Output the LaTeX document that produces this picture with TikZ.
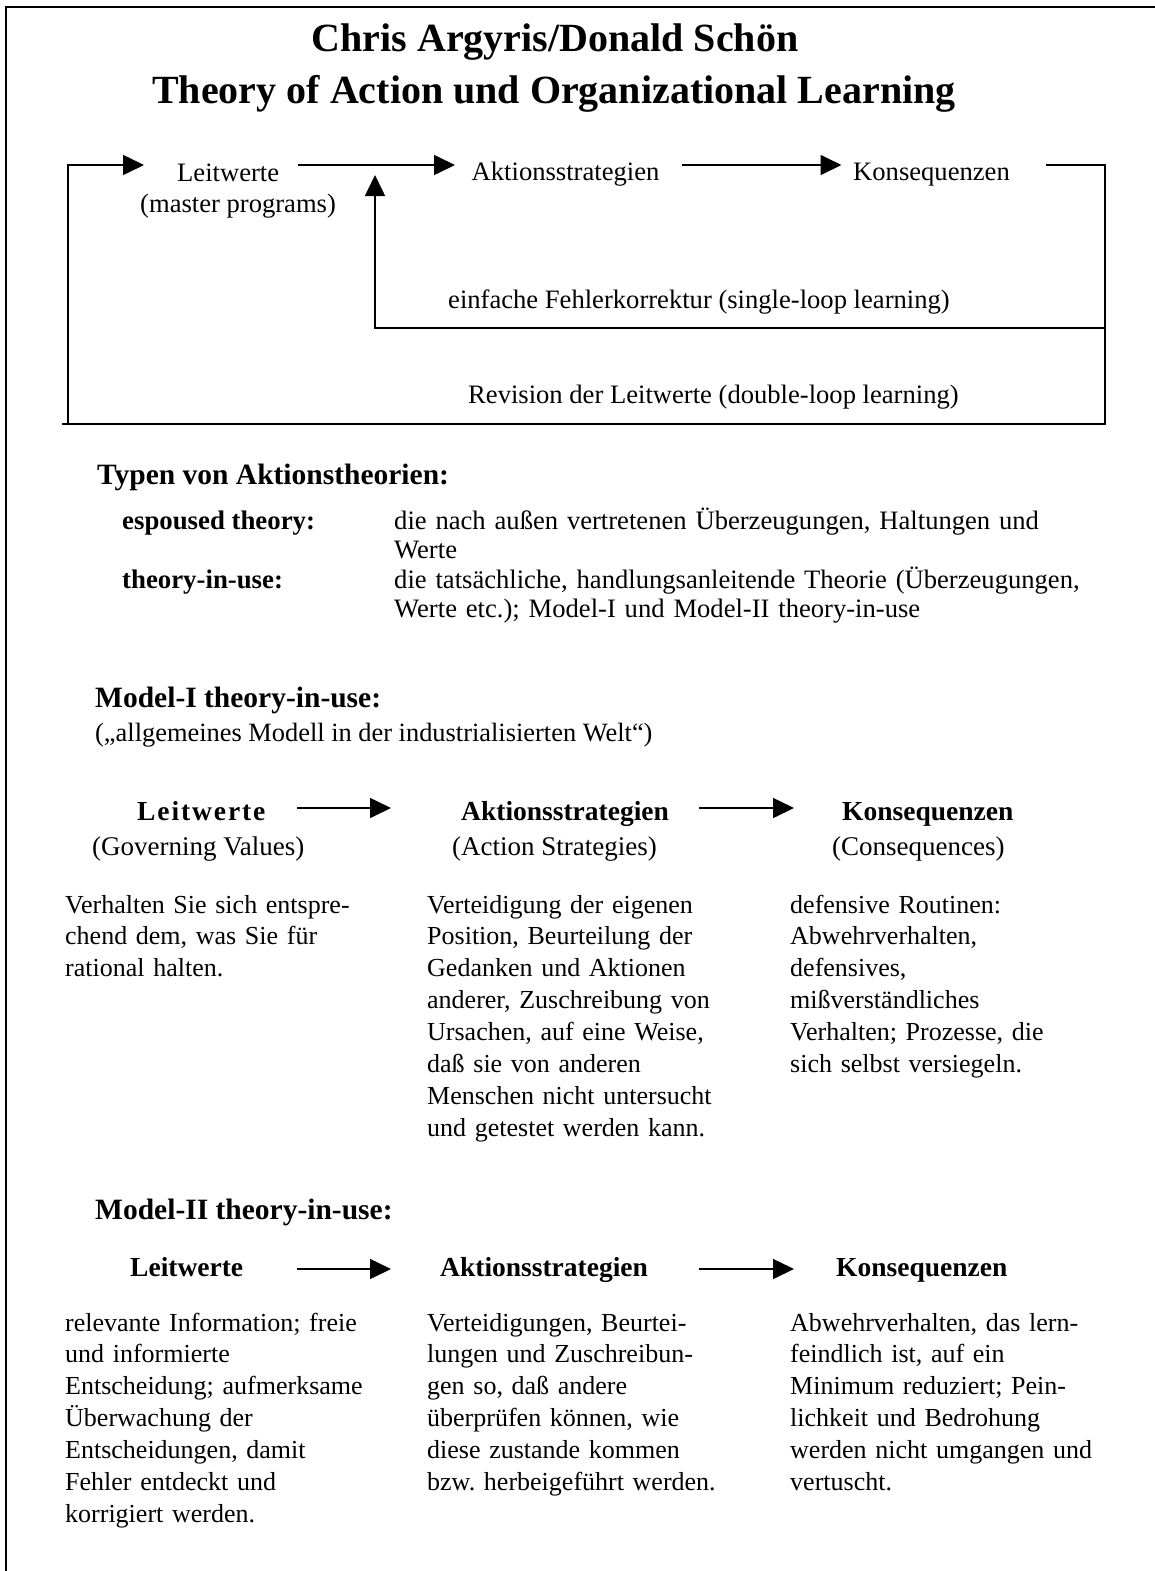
\documentclass[tikz,border=0pt]{standalone}
\usepackage{fontspec}
\setmainfont{Liberation Serif}
\usetikzlibrary{arrows.meta}
\newcommand\myk{\kern1.9pt}
\begin{document}
\frenchspacing
\begin{tikzpicture}[x=1pt,y=-1pt,
  ln/.style={line width=1.6pt},
  arr/.style={line width=1.6pt,-{Triangle[length=21pt,width=20pt]}},
  framel/.style={line width=2pt},
  ttl/.style={font=\fontsize{40}{48}\selectfont\bfseries, inner sep=0pt, anchor=base},
  lbl/.style={font=\fontsize{26.6}{31}\selectfont, inner sep=0pt, anchor=base west},
  head/.style={font=\fontsize{29.5}{35}\selectfont\bfseries, inner sep=0pt, anchor=base west},
  term/.style={font=\fontsize{26.8}{29}\selectfont\bfseries, inner sep=0pt, anchor=base west},
  defn/.style={font=\fontsize{26.6}{29.2}\selectfont, inner sep=0pt, anchor=base west, text width=740pt, align=left},
  sub/.style={font=\fontsize{27}{31}\selectfont, inner sep=0pt, anchor=base west},
  colhead/.style={font=\fontsize{27.5}{31}\selectfont\bfseries, inner sep=0pt, anchor=base west},
  para/.style={font=\fontsize{26}{31.9}\selectfont, inner sep=0pt, anchor=base west, text width=350pt, align=left}
]
\useasboundingbox (0,0) rectangle (1155,1571);
% page frame
\draw[framel] (6,1571) -- (6,7) -- (1155,7);

% title
\node[ttl] (t1) at (555,52) {Chris Argyris/Donald Schön};
\node[ttl] (t2) at (554,103) {Theory of Action und Organizational Learning};

% top loop diagram
\node[lbl] (lw) at (177,181.5) {Leitwerte};
\node[lbl] (mp) at (140,212) {(master programs)};
\node[lbl] (as) at (471.5,180) {Aktionsstrategien};
\node[lbl] (ks) at (853,180) {Konsequenzen};
\node[lbl] (sl) at (448,308) {einfache Fehlerkorrektur (single-loop learning)};
\node[lbl] (dl) at (468,403) {Revision der Leitwerte (double-loop learning)};

\coordinate (lwin0) at (68,424);
\coordinate (lwin1) at (68,165);
\coordinate (lwin) at (144,165);
\coordinate (lwout) at (298,165);
\coordinate (asin) at (455,165);
\coordinate (asout) at (681.5,165);
\coordinate (ksin) at (841.5,165);
\coordinate (ksout) at (1046,165);
\coordinate (rtop) at (1105,165);
\coordinate (rbot) at (1105,424);
\coordinate (lbot) at (62,424);
\coordinate (slr) at (1105,328);
\coordinate (sll) at (375,328);
\coordinate (slup) at (375,175);

\draw[arr] (lwin0) -- (lwin1) -- (lwin);
\draw[arr] (lwout) -- (asin);
\draw[arr] (asout) -- (ksin);
\draw[ln] (ksout) -- (rtop) -- (rbot) -- (lbot);
\draw[arr] (slr) -- (sll) -- (slup);

% Typen von Aktionstheorien
\node[head] (typ) at (97,484) {Typen von Aktionstheorien:};
\node[term] (esp) at (122,529.5) {espoused theory:};
\node[defn] (espd) at (394,529.5) {die nach außen vertretenen Überzeugungen, Haltungen und\\Werte};
\node[term] (tiu) at (122,588.5) {theory-in-use:};
\node[defn] (tiud) at (394,588.5) {die tatsächliche, handlungsanleitende Theorie (Überzeugungen,\\Werte etc.); Model-I und Model-II theory-in-use};

% Model I
\node[head] (m1) at (95,707) {Model-I theory-in-use:};
\node[sub, font=\fontsize{26.4}{31}\selectfont] (m1s) at (95,741) {(„allgemeines Modell in der industrialisierten Welt“)};

\node[colhead] (m1lw) at (137,820) {L\myk e\myk i\myk t\myk w\myk e\myk r\myk t\myk e};
\node[colhead] (m1as) at (461,820) {Aktionsstrategien};
\node[colhead] (m1ks) at (842,820) {Konsequenzen};
\coordinate (m1a1s) at (297,808);
\coordinate (m1a1e) at (391,808);
\coordinate (m1a2s) at (699,808);
\coordinate (m1a2e) at (794,808);
\draw[arr] (m1a1s) -- (m1a1e);
\draw[arr] (m1a2s) -- (m1a2e);

\node[sub] (m1gv) at (92,855) {(Governing Values)};
\node[sub] (m1st) at (452,855) {(Action Strategies)};
\node[sub] (m1co) at (832,855) {(Consequences)};

\node[para] (m1p1) at (65,913) {Verhalten Sie sich entspre-\\chend dem, was Sie für\\rational halten.};
\node[para] (m1p2) at (427,913) {Verteidigung der eigenen\\Position, Beurteilung der\\Gedanken und Aktionen\\anderer, Zuschreibung von\\Ursachen, auf eine Weise,\\daß sie von anderen\\Menschen nicht untersucht\\und getestet werden kann.};
\node[para] (m1p3) at (790,913) {defensive Routinen:\\Abwehrverhalten,\\defensives,\\mißverständliches\\Verhalten; Prozesse, die\\sich selbst versiegeln.};

% Model II
\node[head] (m2) at (95,1219) {Model-II theory-in-use:};
\node[colhead] (m2lw) at (130,1276) {Leitwerte};
\node[colhead] (m2as) at (440,1276) {Aktionsstrategien};
\node[colhead] (m2ks) at (836,1276) {Konsequenzen};
\coordinate (m2a1s) at (297,1269);
\coordinate (m2a1e) at (391,1269);
\coordinate (m2a2s) at (699,1269);
\coordinate (m2a2e) at (794,1269);
\draw[arr] (m2a1s) -- (m2a1e);
\draw[arr] (m2a2s) -- (m2a2e);

\node[para] (m2p1) at (65,1331) {relevante Information; freie\\und informierte\\Entscheidung; aufmerksame\\Überwachung der\\Entscheidungen, damit\\Fehler entdeckt und\\korrigiert werden.};
\node[para] (m2p2) at (427,1331) {Verteidigungen, Beurtei-\\lungen und Zuschreibun-\\gen so, daß andere\\überprüfen können, wie\\diese zustande kommen\\bzw. herbeigeführt werden.};
\node[para] (m2p3) at (790,1331) {Abwehrverhalten, das lern-\\feindlich ist, auf ein\\Minimum reduziert; Pein-\\lichkeit und Bedrohung\\werden nicht umgangen und\\vertuscht.};
\end{tikzpicture}
\end{document}
